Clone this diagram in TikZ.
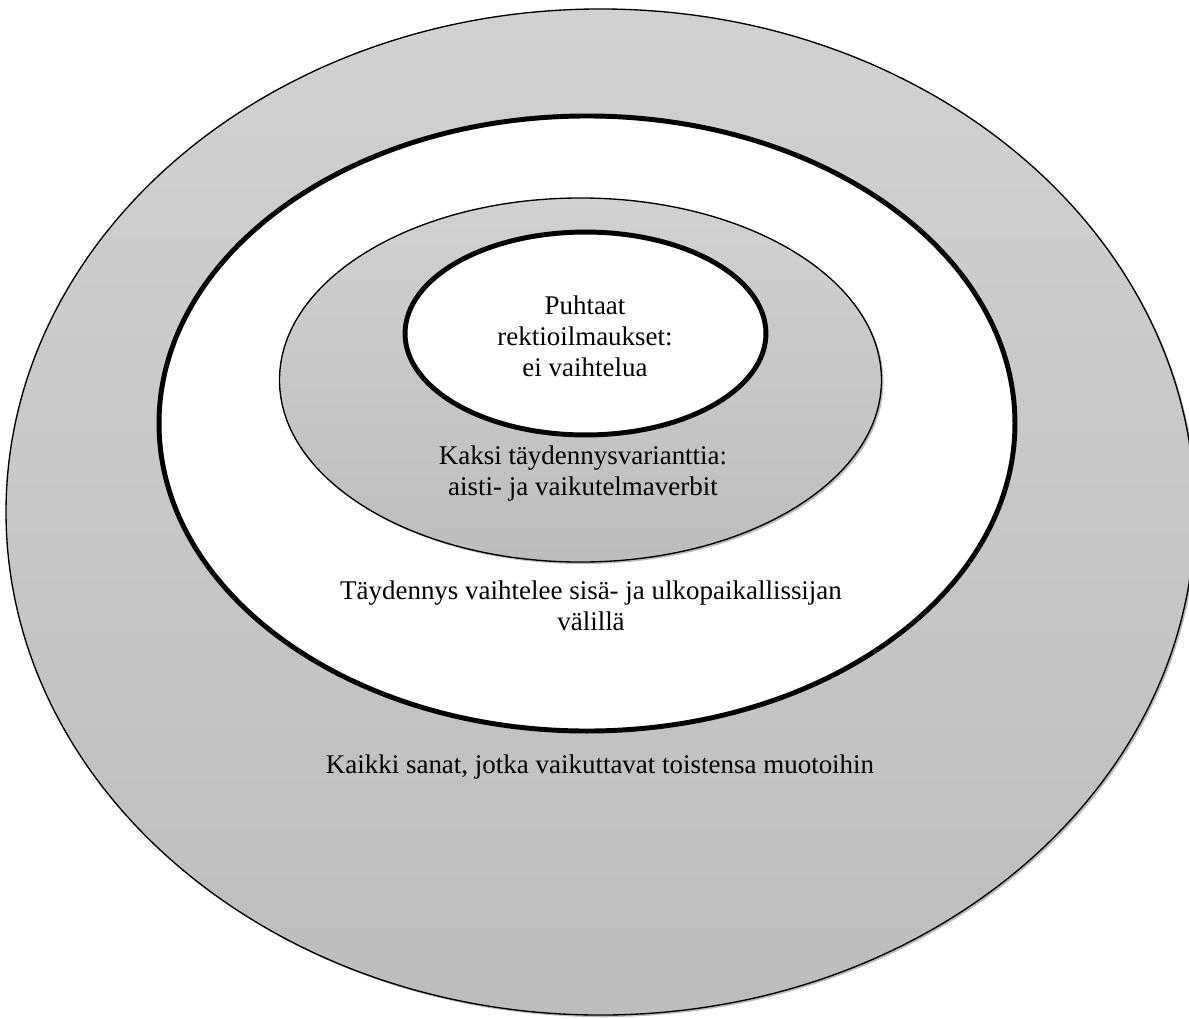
\documentclass[tikz,border=0pt]{standalone}
\usepackage{fontspec}
\setmainfont{Liberation Serif}
\usepackage{tikz}
\usetikzlibrary{shapes.geometric,shadows}
\definecolor{ringtop}{gray}{0.82}
\definecolor{ringbottom}{gray}{0.74}

\begin{document}
\begin{tikzpicture}[
  x=0.445pt, y=-0.445pt,
  ring/.style={ellipse, draw, inner sep=0pt},
  grayring/.style={ring, line width=0.6pt, top color=ringtop, bottom color=ringbottom,
    drop shadow={shadow xshift=0.9pt, shadow yshift=-0.9pt, fill=black!45, opacity=0.6}},
  whitering/.style={ring, line width=2.2pt, fill=white},
  lbl/.style={align=center, font=\fontsize{12}{13.8}\selectfont}
]
\useasboundingbox (0,0) rectangle (1189,1019);
\node[grayring, minimum width=529.1pt, minimum height=447.7pt] (all) at (600.5,512) {};
\node[whitering, minimum width=380.9pt, minimum height=273.7pt] (loc) at (587,423.5) {};
\node[grayring, minimum width=267.9pt, minimum height=162pt] (two) at (580.5,380) {};
\node[whitering, minimum width=160.6pt, minimum height=90.3pt] (pure) at (585.5,333.5) {};

\node[lbl] (puretxt) at (585,336) {Puhtaat\\rektioilmaukset:\\ei vaihtelua};
\node[lbl] (twotxt) at (583,474) {Kaksi täydennysvarianttia:\\aisti- ja vaikutelmaverbit};
\node[lbl] (loctxt) at (591,606) {Täydennys vaihtelee sisä- ja ulkopaikallissijan\\välillä};
\node[lbl] (alltxt) at (600,767) {Kaikki sanat, jotka vaikuttavat toistensa muotoihin};
\end{tikzpicture}
\end{document}
